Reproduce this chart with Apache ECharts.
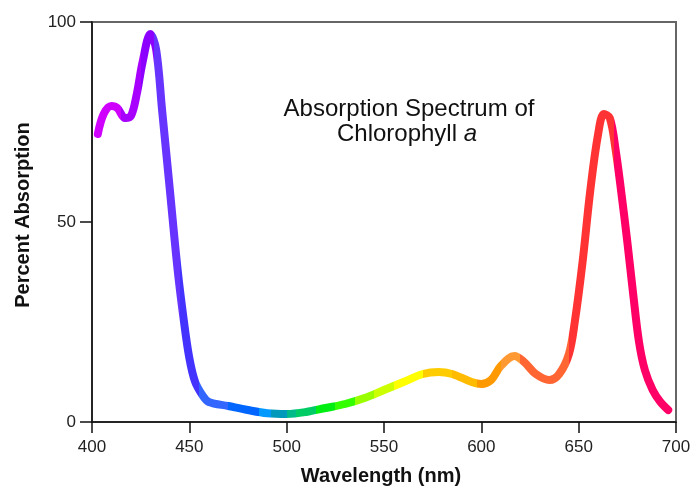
<!DOCTYPE html>
<html><head><meta charset="utf-8">
<script src="https://cdn.jsdelivr.net/npm/echarts@6/dist/echarts.min.js"></script>
<style>html,body{margin:0;padding:0;background:#fff}#c{width:695px;height:488px}</style>
</head><body><div id="c"></div>
<script>
const wavelengths = [403,406,410,413,417,420,423,426,430,433,436,440,444,447,450,453,457,460,470,480,490,500,510,520,530,540,550,560,570,578,585,595,600,605,610,617,622,628,635,640,645,648,652,656,660,663,666,669,672,675,678,681,684,688,692,696];
const absorption = [72,77,79,78.5,76,76.5,82,90,97,93,78,58,38,26,16,10,6.5,5,4,3,2.2,2,2.5,3.5,4.5,6,8,10,12,12.5,12,10,9.5,10.5,14,16.5,15,12,10.5,12,17,25,40,58,72,77,76,68,57,45,32,20,13,8,5,3];
const colorBands = [
  [400,415,'#d000ff'],[415,425,'#a800ff'],[425,432,'#8c00ff'],[432,445,'#6633ff'],
  [445,455,'#4433ff'],[455,470,'#3366ff'],[470,486,'#0066ff'],[486,492,'#0099ff'],
  [492,500,'#0099bb'],[500,505,'#00bb88'],[505,515,'#00cc66'],[515,525,'#00ee11'],
  [525,535,'#33ff00'],[535,545,'#99ff00'],[545,555,'#ccff00'],[555,570,'#ffff00'],
  [570,585,'#ffcc00'],[585,598,'#ffbb00'],[598,610,'#ff9900'],[610,620,'#ff9933'],
  [620,645,'#ff6633'],[645,668,'#ff3333'],[668,700,'#ff0066']
];
const xTicks = [400,450,500,550,600,650,700];
const yTicks = [0,50,100];
const titleLines = ['Absorption Spectrum of', 'Chlorophyll ', 'a'];
const xName = 'Wavelength (nm)';
const yName = 'Percent Absorption';

const chart = echarts.init(document.getElementById('c'));
chart.setOption({
  backgroundColor: '#ffffff',
  animation: false,
  grid: {left: 92, right: 19, top: 22, bottom: 66, show: true, borderColor: '#666', borderWidth: 2, backgroundColor: 'transparent'},
  xAxis: {
    type: 'value', min: 400, max: 700, interval: 50,
    axisLine: {show: true, lineStyle: {color: '#111', width: 1.5}},
    axisTick: {show: true, length: 11, lineStyle: {color: '#111', width: 1.5}},
    axisLabel: {color: '#222', fontFamily: 'Liberation Sans', fontSize: 17, margin: 17},
    splitLine: {show: false}
  },
  yAxis: {
    type: 'value', min: 0, max: 100, interval: 50,
    axisLine: {show: true, lineStyle: {color: '#111', width: 1.5}},
    axisTick: {show: true, length: 12, lineStyle: {color: '#111', width: 1.5}},
    axisLabel: {color: '#222', fontFamily: 'Liberation Sans', fontSize: 17, margin: 16},
    splitLine: {show: false}
  },
  visualMap: {
    show: false, type: 'piecewise', dimension: 0, seriesIndex: 0,
    pieces: colorBands.map(b => ({gte: b[0], lt: b[1], color: b[2]}))
  },
  graphic: [
    {type: 'text', x: 409, y: 109, z: 10,
     style: {text: titleLines[0], font: '24px "Liberation Sans"', fill: '#111', align: 'center', verticalAlign: 'middle'}},
    {type: 'text', x: 407, y: 134, z: 10,
     style: {text: '{n|' + titleLines[1] + '}{i|' + titleLines[2] + '}', font: '24px "Liberation Sans"', fill: '#111', align: 'center', verticalAlign: 'middle',
       rich: {n: {font: '24px "Liberation Sans"', fill: '#111'}, i: {font: 'italic 24px "Liberation Sans"', fill: '#111'}}}},
    {type: 'text', x: 381, y: 476, z: 10,
     style: {text: xName, font: 'bold 20px "Liberation Sans"', fill: '#111', align: 'center', verticalAlign: 'middle'}},
    {type: 'text', x: 23, y: 215, rotation: Math.PI / 2, z: 10,
     style: {text: yName, font: 'bold 20px "Liberation Sans"', fill: '#111', align: 'center', verticalAlign: 'middle'}}
  ],
  series: [{
    type: 'line', smooth: 0.35, showSymbol: false,
    lineStyle: {width: 8, cap: 'round', join: 'round'},
    data: wavelengths.map((w, i) => [w, absorption[i]])
  }]
});
</script></body></html>
